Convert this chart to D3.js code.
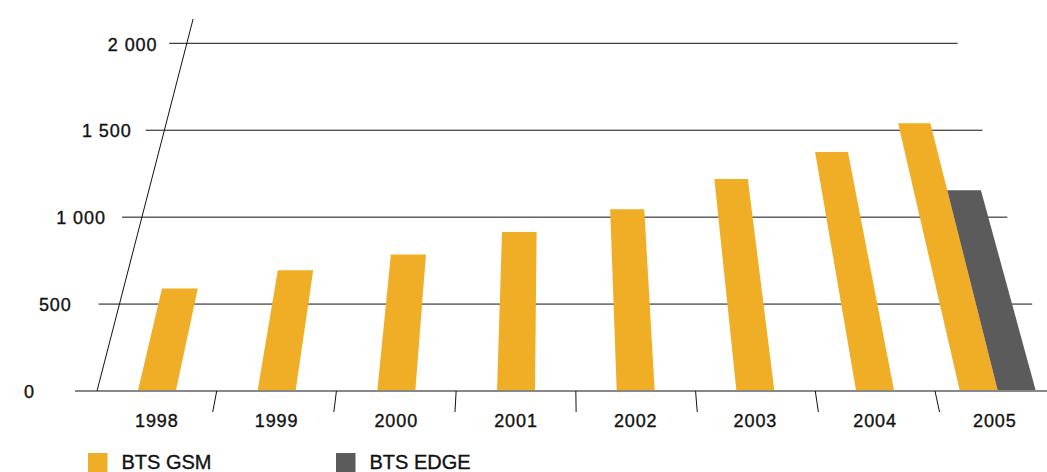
<!DOCTYPE html>
<html>
<head>
<meta charset="utf-8">
<script src="https://cdn.jsdelivr.net/npm/d3@7"></script>
<style>
  body { margin: 0; background: #fff; }
  text { font-family: "Liberation Sans", Helvetica, Arial, sans-serif; fill: #111; stroke: #111; stroke-width: 0.35px; }
  .tickText { font-size: 18px; letter-spacing: 0.9px; }
  .legendText { font-size: 20px; }
</style>
</head>
<body>
<div id="chart"></div>
<script>
// data
var years = ["1998", "1999", "2000", "2001", "2002", "2003", "2004", "2005"];
var gsmValues = [590, 695, 785, 915, 1045, 1220, 1375, 1540];
var edgeValues = [null, null, null, null, null, null, null, 1155];
var yTicks = [0, 500, 1000, 1500, 2000];
var yTickLabels = ["0", "500", "1 000", "1 500", "2 000"];
var seriesNames = ["BTS GSM", "BTS EDGE"];
var seriesColors = ["#f0ae26", "#5b5b5b"];

var svgWidth = 1047;
var svgHeight = 472;

// the chart plane leans back toward a vanishing point above the middle
var baseY = 391;
var vanishX = 553;
var depth = 1765;

var svg = d3.select("#chart")
    .append("svg")
    .attr("width", svgWidth)
    .attr("height", svgHeight);

var xBandScale = d3.scaleBand()
    .domain(years)
    .range([97, 1054.7]);

var yLinearScale = d3.scaleLinear()
    .domain([0, 2000])
    .range([baseY, 43.3]);

// x on the baseline -> x on screen at screen height yy
function project(xb, yy) {
    var h = baseY - yy;
    return vanishX + (xb - vanishX) * (1 - h / depth);
}

// gridlines
svg.append("g").selectAll("line")
    .data(yTicks.filter(d => d > 0))
    .enter()
    .append("line")
    .attr("x1", d => project(75, yLinearScale(d)))
    .attr("x2", d => project(1057, yLinearScale(d)))
    .attr("y1", d => yLinearScale(d))
    .attr("y2", d => yLinearScale(d))
    .attr("stroke", "#111")
    .attr("stroke-width", 1);

// y tick labels
svg.append("g").selectAll("text")
    .data(yTicks)
    .enter()
    .append("text")
    .attr("class", "tickText")
    .attr("x", d => project(29.5, yLinearScale(d)))
    .attr("y", d => yLinearScale(d) + 7.2)
    .attr("text-anchor", "middle")
    .text((d, i) => yTickLabels[i]);

// bars, one group per year, present series centred in the band
var barWidth = 38;
var bars = [];
years.forEach(function(year, i) {
    var vals = [gsmValues[i], edgeValues[i]];
    var present = [];
    vals.forEach(function(v, s) {
        if (v != null) present.push({ year: year, value: v, series: s });
    });
    var start = xBandScale(year) + xBandScale.bandwidth() / 2 - present.length * barWidth / 2;
    if (present.length > 1) start += 3;
    present.forEach(function(b, k) {
        b.x0 = start + k * barWidth;
        b.x1 = b.x0 + barWidth;
        bars.push(b);
    });
});

svg.append("g").selectAll("polygon")
    .data(bars)
    .enter()
    .append("polygon")
    .attr("points", function(d) {
        var top = yLinearScale(d.value);
        return [
            [d.x0, baseY],
            [d.x1, baseY],
            [project(d.x1, top), top],
            [project(d.x0, top), top]
        ].join(" ");
    })
    .attr("fill", d => seriesColors[d.series]);

// baseline
svg.append("line")
    .attr("x1", 75)
    .attr("x2", svgWidth)
    .attr("y1", baseY)
    .attr("y2", baseY)
    .attr("stroke", "#888")
    .attr("stroke-width", 2);

// slanted y axis
var axisTop = 19;
svg.append("line")
    .attr("x1", xBandScale.range()[0])
    .attr("y1", baseY)
    .attr("x2", project(xBandScale.range()[0], axisTop))
    .attr("y2", axisTop)
    .attr("stroke", "#111")
    .attr("stroke-width", 1);

// x ticks between the years
svg.append("g").selectAll("line")
    .data(years.slice(1))
    .enter()
    .append("line")
    .attr("x1", d => xBandScale(d))
    .attr("y1", baseY)
    .attr("x2", d => project(xBandScale(d), baseY + 21))
    .attr("y2", baseY + 21)
    .attr("stroke", "#111")
    .attr("stroke-width", 1);

// year labels
svg.append("g").selectAll("text")
    .data(years)
    .enter()
    .append("text")
    .attr("class", "tickText")
    .attr("x", d => xBandScale(d) + xBandScale.bandwidth() / 2)
    .attr("y", 426.7)
    .attr("text-anchor", "middle")
    .text(d => d);

// legend
var legend = svg.append("g").selectAll("g")
    .data(seriesNames)
    .enter()
    .append("g")
    .attr("transform", (d, i) => `translate(${88 + i * 248}, 453)`);

legend.append("rect")
    .attr("width", 19.5)
    .attr("height", 19.5)
    .attr("fill", (d, i) => seriesColors[i]);

legend.append("text")
    .attr("class", "legendText")
    .attr("x", 33.5)
    .attr("y", 16.3)
    .text(d => d);
</script>
</body>
</html>
